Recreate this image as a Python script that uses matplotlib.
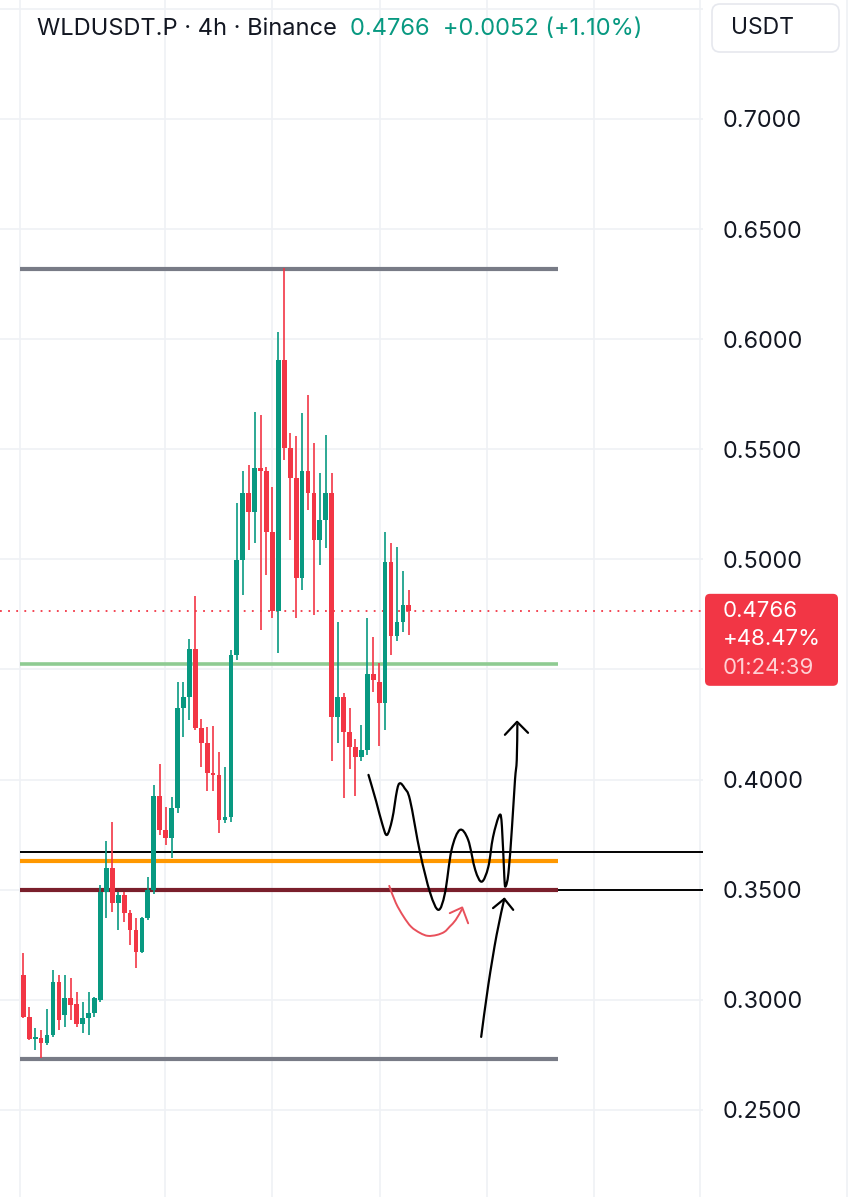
import matplotlib
matplotlib.use("Agg")
import matplotlib.pyplot as plt
from matplotlib.patches import FancyBboxPatch
from matplotlib.path import Path
from matplotlib.patches import PathPatch
import numpy as np

# ---------------- data ----------------
opens = [0.3112, 0.2923, 0.2820, 0.2824, 0.2802, 0.2840, 0.3082, 0.2930, 0.3006, 0.2980,
         0.2890, 0.2915, 0.2938, 0.2999, 0.3491, 0.3597, 0.3438, 0.3476, 0.3392, 0.3317,
         0.3218, 0.3369, 0.3498, 0.3925, 0.3770, 0.3733, 0.3869, 0.4323, 0.4376, 0.4591,
         0.4232, 0.4164, 0.4031, 0.4020, 0.3816, 0.3828, 0.4565, 0.4995, 0.5300, 0.5217,
         0.5414, 0.5399, 0.5126, 0.4763, 0.5906, 0.5505, 0.5368, 0.4914, 0.5399, 0.5300,
         0.5088, 0.5179, 0.5300, 0.4286, 0.4374, 0.4218, 0.4147, 0.4104, 0.4135, 0.4480,
         0.4445, 0.4346, 0.4987, 0.4652, 0.4714, 0.4792]
highs = [0.3211, 0.2968, 0.2873, 0.2862, 0.2956, 0.3135, 0.3112, 0.3112, 0.3097, 0.3036,
         0.2991, 0.3036, 0.3014, 0.3521, 0.3722, 0.3809, 0.3491, 0.3491, 0.3407, 0.3369,
         0.3377, 0.3559, 0.3975, 0.4069, 0.3877, 0.3922, 0.4444, 0.4444, 0.4637, 0.4833,
         0.4273, 0.4240, 0.4243, 0.4126, 0.4058, 0.4588, 0.5255, 0.5403, 0.5429, 0.5671,
         0.5656, 0.5421, 0.5330, 0.6034, 0.6322, 0.5573, 0.5558, 0.5664, 0.5747, 0.5530,
         0.5391, 0.5565, 0.5391, 0.4717, 0.4395, 0.4324, 0.4183, 0.4248, 0.4733, 0.4649,
         0.4528, 0.5126, 0.5073, 0.5055, 0.4949, 0.4861]
lows = [0.2915, 0.2817, 0.2772, 0.2734, 0.2794, 0.2832, 0.2862, 0.2877, 0.2908, 0.2877,
        0.2847, 0.2840, 0.2923, 0.2991, 0.3370, 0.3400, 0.3317, 0.3354, 0.3248, 0.3142,
        0.3211, 0.3362, 0.3480, 0.3748, 0.3702, 0.3642, 0.3846, 0.4194, 0.4270, 0.4225,
        0.4058, 0.3949, 0.3949, 0.3758, 0.3804, 0.3808, 0.4543, 0.4838, 0.5043, 0.5073,
        0.4679, 0.4929, 0.4733, 0.4573, 0.5452, 0.5088, 0.4732, 0.4861, 0.5224, 0.4748,
        0.4975, 0.5050, 0.4082, 0.4165, 0.3915, 0.4047, 0.3923, 0.4082, 0.4112, 0.4399,
        0.4150, 0.4225, 0.4566, 0.4631, 0.4672, 0.4657]
closes = [0.2923, 0.2820, 0.2830, 0.2802, 0.2840, 0.3082, 0.2908, 0.3006, 0.2976, 0.2890,
          0.2915, 0.2941, 0.3006, 0.3491, 0.3597, 0.3438, 0.3476, 0.3392, 0.3317, 0.3218,
          0.3369, 0.3498, 0.3925, 0.3770, 0.3733, 0.3869, 0.4323, 0.4376, 0.4591, 0.4232,
          0.4164, 0.4031, 0.4020, 0.3816, 0.3828, 0.4565, 0.4995, 0.5300, 0.5217, 0.5414,
          0.5399, 0.5126, 0.4763, 0.5906, 0.5505, 0.5368, 0.4914, 0.5399, 0.5300, 0.5088,
          0.5179, 0.5300, 0.4286, 0.4374, 0.4218, 0.4147, 0.4104, 0.4135, 0.4480, 0.4452,
          0.4346, 0.4987, 0.4652, 0.4714, 0.4792, 0.4766]

price_ticks = [0.25, 0.30, 0.35, 0.40, 0.45, 0.50, 0.55, 0.60, 0.65, 0.70, 0.75]
# 0.4500 is hidden behind the last-price tag in the reference
price_labels = ["0.2500", "0.3000", "0.3500", "0.4000", "", "0.5000",
                "0.5500", "0.6000", "0.6500", "0.7000", ""]
time_grid = [-0.55, 23.9, 41.9, 60.1, 78.2, 96.2, 114.1]

range_top = 0.6319
range_bottom = 0.2731
green_level = 0.4525
black_level_hi = 0.3671
orange_level = 0.3630
maroon_level = 0.3499
level_end = 90.2

last_price = 0.4766
title_main = "WLDUSDT.P · 4h · Binance"
title_quote = "0.4766  +0.0052 (+1.10%)"
tag_lines = ["0.4766", "+48.47%", "01:24:39"]
currency = "USDT"

# hand-drawn annotations (bar index, price)
wave_x = [58.2, 59.5, 60.5, 61.3, 62.2, 63.0, 63.5, 64.3, 65.2, 66.9, 68.6, 70.0, 71.1,
          72.2, 73.6, 75.0, 76.2, 77.3, 78.4, 79.2, 80.3, 80.7, 81.1, 81.3, 81.8, 82.4,
          82.9, 83.2, 83.3]
wave_y = [0.4021, 0.3900, 0.3800, 0.3748, 0.3820, 0.3950, 0.3983, 0.3960, 0.3907, 0.3667,
          0.3485, 0.3408, 0.3485, 0.3680, 0.3771, 0.3726, 0.3589, 0.3536, 0.3603, 0.3739,
          0.3839, 0.3786, 0.3559, 0.3514, 0.3576, 0.3786, 0.3998, 0.4089, 0.4250]
wave_head_x = [81.2, 83.25, 85.1]
wave_head_y = [0.4203, 0.4262, 0.4212]
up_x = [77.2, 78.4, 79.8, 81.1]
up_y = [0.2831, 0.3067, 0.3294, 0.3458]
up_head_x = [79.2, 81.1, 82.6]
up_head_y = [0.3416, 0.3458, 0.3408]
red_x = [61.7, 62.8, 64.1, 65.4, 66.9, 68.2, 69.7, 71.0, 71.9, 72.9, 73.9]
red_y = [0.3517, 0.3440, 0.3378, 0.3331, 0.3303, 0.3290, 0.3294, 0.3308, 0.3332, 0.3362, 0.3408]
red_head_x = [71.9, 74.0, 75.0]
red_head_y = [0.3393, 0.3419, 0.3347]

# ---------------- style ----------------
UP = "#089981"
DOWN = "#F23645"
GRID = "#EFF1F5"
FONT = ["Inter", "DejaVu Sans"]
plt.rcParams['font.family'] = FONT

W, H = 867, 1197
fig = plt.figure(figsize=(W / 100, H / 100), dpi=100)
fig.patch.set_facecolor("white")
ax = fig.add_axes([0, 0, 703 / W, 1])
ax.set_facecolor("white")
ax.set_xlim(-3.93, 114.6)
ax.set_ylim(0.2104, 0.7540)
for s in ax.spines.values():
    s.set_visible(False)

ax.set_yticks(price_ticks)
ax.set_yticklabels(price_labels)
ax.yaxis.tick_right()
ax.tick_params(axis="y", length=0, pad=14.4, labelsize=16.8, labelcolor="#131722")
ax.set_xticks(time_grid)
ax.tick_params(axis="x", length=0, labelbottom=False)
ax.grid(True, color=GRID, linewidth=1.2, zorder=0)
ax.set_axisbelow(True)

# candles
idx = np.arange(len(opens))
o = np.array(opens); c = np.array(closes); h = np.array(highs); l = np.array(lows)
cols = np.where(c >= o, UP, DOWN)
ax.vlines(idx, l, h, colors=cols, linewidth=1.2, zorder=3)
ax.bar(idx, np.maximum(np.abs(c - o), 0.0006), bottom=np.minimum(o, c), width=0.8,
       color=cols, linewidth=0, zorder=4)

# levels
ax.hlines(range_top, -0.55, level_end, color="#787B86", linewidth=3.0, zorder=2)
ax.hlines(range_bottom, -0.55, level_end, color="#787B86", linewidth=3.0, zorder=2)
ax.hlines(green_level, -0.55, level_end, color="#8FCB92", linewidth=2.6, zorder=2)
ax.hlines(black_level_hi, -0.55, 114.6, color="black", linewidth=1.4, zorder=2)
ax.hlines(maroon_level, -0.55, 114.6, color="black", linewidth=1.4, zorder=2)
ax.hlines(orange_level, -0.55, level_end, color="#FF9800", linewidth=3.0, zorder=2.5)
ax.hlines(maroon_level, -0.55, level_end, color="#7A1F2B", linewidth=3.0, zorder=2.5)

# last price dotted line
ax.axhline(last_price, color=DOWN, linewidth=1.3, linestyle=(0, (1, 3.5)), zorder=2)


def smooth_path(xs, ys):
    pts = np.column_stack([xs, ys])
    n = len(pts)
    verts = [pts[0]]
    codes = [Path.MOVETO]
    for i in range(n - 1):
        p0 = pts[max(i - 1, 0)]
        p1 = pts[i]
        p2 = pts[i + 1]
        p3 = pts[min(i + 2, n - 1)]
        c1 = p1 + (p2 - p0) / 6.0
        c2 = p2 - (p3 - p1) / 6.0
        verts += [c1, c2, p2]
        codes += [Path.CURVE4] * 3
    return Path(verts, codes)


def stroke(xs, ys, color, lw=1.6):
    ax.add_patch(PathPatch(smooth_path(xs, ys), facecolor="none", edgecolor=color,
                           linewidth=lw, capstyle="round", joinstyle="round", zorder=6))


stroke(wave_x, wave_y, "black")
ax.plot(wave_head_x, wave_head_y, color="black", lw=1.6, solid_capstyle="round", zorder=6)
stroke(up_x, up_y, "black")
ax.plot(up_head_x, up_head_y, color="black", lw=1.6, solid_capstyle="round", zorder=6)
stroke(red_x, red_y, "#E8505B", lw=1.4)
ax.plot(red_head_x, red_head_y, color="#E8505B", lw=1.4, solid_capstyle="round", zorder=6)

# ---------------- overlays in pixel space ----------------
px = fig.dpi_scale_trans  # inches


def P(x, y_top):
    return (x / 100.0, (H - y_top) / 100.0)


# right-scale separator
fig.add_artist(plt.Line2D([847 / W, 847 / W], [0, 1], color=GRID, lw=1.2,
                          transform=fig.transFigure))

# title
fig.text(37 / W, 1 - 29 / H, title_main, fontsize=17, color="#131722", va="center", ha="left")
fig.text(350 / W, 1 - 29 / H, title_quote, fontsize=17, color=UP, va="center", ha="left")

# currency box
x0, y0 = P(712, 52)
box = FancyBboxPatch((x0, y0), 1.27, 0.48, boxstyle="round,pad=0,rounding_size=0.08",
                     transform=px, facecolor="white", edgecolor="#E6E8EE", linewidth=1.2)
fig.add_artist(box)
fig.text(731 / W, 1 - 28 / H, currency, fontsize=16.5, color="#131722", va="center", ha="left")

# price tag anchored at the last price
fig.canvas.draw()
ypix = ax.transData.transform((0, last_price))[1]
ytop = H - ypix  # from top
tx0, ty0 = P(705, ytop + 75)
tag = FancyBboxPatch((tx0, ty0), 1.33, 0.92, boxstyle="round,pad=0,rounding_size=0.05",
                     transform=px, facecolor=DOWN, edgecolor="none")
fig.add_artist(tag)
tag_colors = ["white", "white", "#FFD0D4"]
tag_offsets = [0, 28.5, 57.0]
for txt, colr, off in zip(tag_lines, tag_colors, tag_offsets):
    fig.text(723 / W, (ypix - off) / H, txt, fontsize=16, color=colr,
             va="center", ha="left")

fig.savefig("out.png", dpi=100, facecolor="white")
